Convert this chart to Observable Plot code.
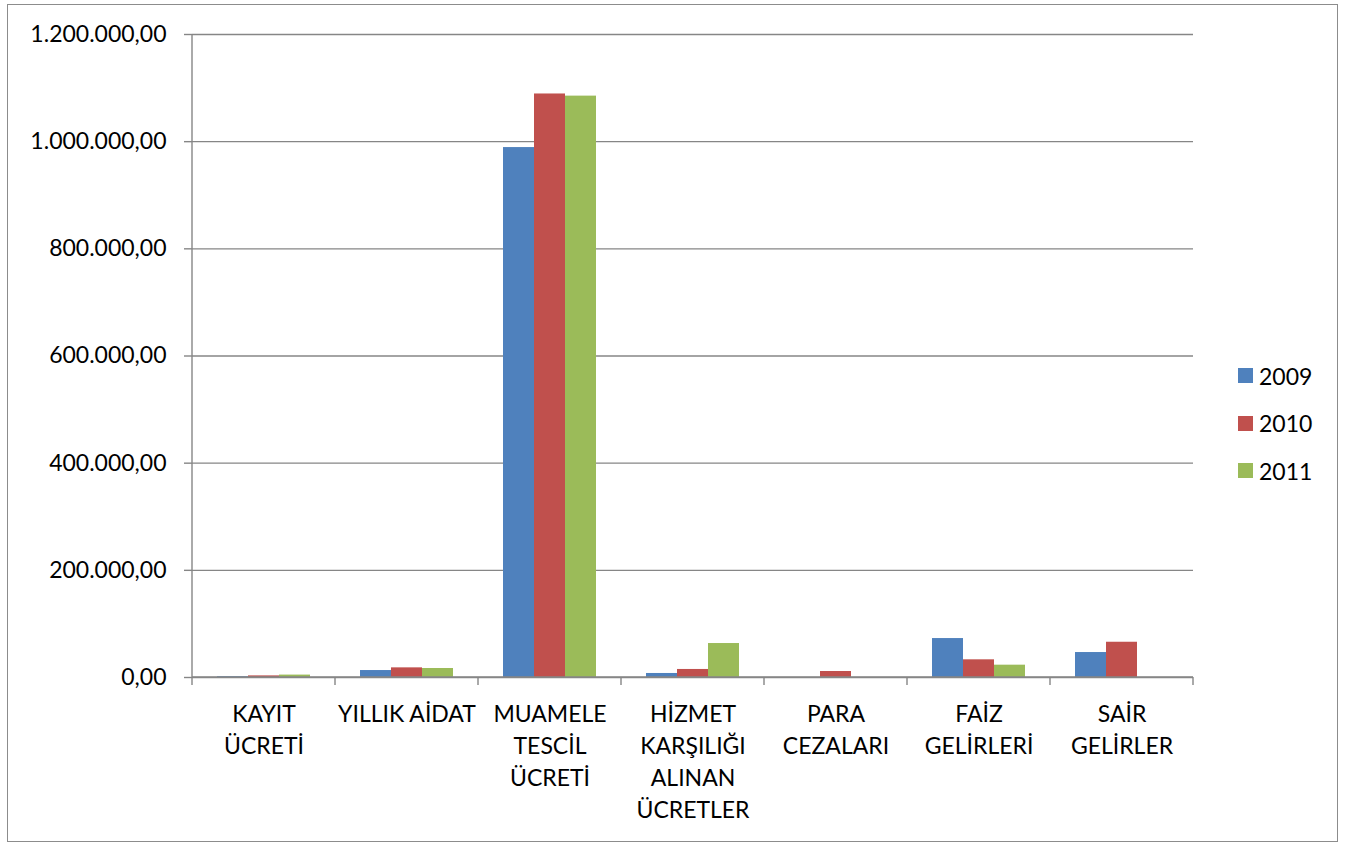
<!DOCTYPE html>
<html>
<head>
<meta charset="utf-8">
<script src="https://cdn.jsdelivr.net/npm/d3@7"></script>
<script src="https://cdn.jsdelivr.net/npm/@observablehq/plot@0.6"></script>
<style>
  html, body { margin: 0; padding: 0; background: #fff; }
  #wrap { position: absolute; left: 7px; top: 4px; width: 1329px; height: 836px; border: 1px solid #8c8c8c; background: #fff; font-family: Lato, "Liberation Sans", sans-serif; }
  #chart { position: absolute; left: 0; top: 0; }
  #legend { position: absolute; left: 1230px; top: 347px; }
  .item { display: flex; align-items: center; height: 47.5px; font-size: 23px; color: #000; }
  .sw { width: 15px; height: 15px; margin-right: 6px; }
</style>
</head>
<body>
<div id="wrap"><div id="chart"></div><div id="legend"></div></div>
<script>
const categories = ["KAYIT ÜCRETİ", "YILLIK AİDAT", "MUAMELE TESCİL ÜCRETİ", "HİZMET KARŞILIĞI ALINAN ÜCRETLER", "PARA CEZALARI", "FAİZ GELİRLERİ", "SAİR GELİRLER"];
const categoryLabels = ["KAYIT\nÜCRETİ", "YILLIK AİDAT", "MUAMELE\nTESCİL\nÜCRETİ", "HİZMET\nKARŞILIĞI\nALINAN\nÜCRETLER", "PARA\nCEZALARI", "FAİZ\nGELİRLERİ", "SAİR\nGELİRLER"];
const years = ["2009", "2010", "2011"];
const values2009 = [1500, 13000, 989000, 7500, 0, 72700, 46600];
const values2010 = [3000, 18000, 1089000, 15000, 11200, 33000, 65800];
const values2011 = [4500, 16800, 1085000, 63400, 0, 23000, 0];
const yTicks = [0, 200000, 400000, 600000, 800000, 1000000, 1200000];
const colors = ["#4F81BD", "#C0504D", "#9BBB59"];

const series = [values2009, values2010, values2011];
const data = [];
categories.forEach((c, i) => years.forEach((y, j) => data.push({category: c, year: y, value: series[j][i]})));

const tr = d3.formatLocale({decimal: ",", thousands: ".", grouping: [3], currency: ["", ""]});
const fmt = tr.format(",.2f");
const labelOf = new Map(categories.map((c, i) => [c, categoryLabels[i]]));
const gray = "#868686";

const plot = Plot.plot({
  width: 1200,
  height: 836,
  marginLeft: 183,
  marginRight: 14,
  marginTop: 29,
  marginBottom: 164,
  style: {fontFamily: "Lato, 'Liberation Sans', sans-serif", fontSize: "23px", color: "#000", background: "transparent"},
  fx: {domain: categories, paddingInner: 0, paddingOuter: 0, label: null},
  x: {domain: years, paddingInner: 0, paddingOuter: 0.75, axis: null},
  y: {domain: [0, 1200000], ticks: yTicks, label: null},
  color: {domain: years, range: colors},
  marks: [
    Plot.gridY(yTicks, {stroke: gray, strokeOpacity: 1, strokeWidth: 1.4}),
    Plot.axisY(yTicks, {tickFormat: fmt, tickSize: 8, tickPadding: 18, stroke: gray, strokeWidth: 1.4, fontSize: 23, label: null}),
    Plot.barY(data, {fx: "category", x: "year", y: "value", fill: "year"}),
    Plot.axisFx({anchor: "bottom", tickSize: 0, tickPadding: 22, tickFormat: d => labelOf.get(d), lineHeight: 1.39, fontSize: 23, label: null})
  ]
});
document.getElementById("chart").appendChild(plot);

// axis lines and category boundary ticks, placed through the plot's scales
const fxs = plot.scale("fx"), ys = plot.scale("y");
const svg = d3.select(plot);
const y0 = ys.apply(0), yTop = ys.apply(1200000);
const xs = categories.map(c => fxs.apply(c));
const xEnd = xs[xs.length - 1] + fxs.bandwidth;
const g = svg.append("g").attr("stroke", gray).attr("stroke-width", 1.4);
g.append("line").attr("x1", xs[0]).attr("x2", xs[0]).attr("y1", yTop).attr("y2", y0);
g.append("line").attr("x1", xs[0]).attr("x2", xEnd).attr("y1", y0).attr("y2", y0);
[...xs, xEnd].forEach(x => g.append("line").attr("x1", x).attr("x2", x).attr("y1", y0).attr("y2", y0 + 8));

const leg = d3.select("#legend");
years.forEach((y, i) => {
  const it = leg.append("div").attr("class", "item");
  it.append("div").attr("class", "sw").style("background", colors[i]);
  it.append("span").text(y);
});
</script>
</body>
</html>
